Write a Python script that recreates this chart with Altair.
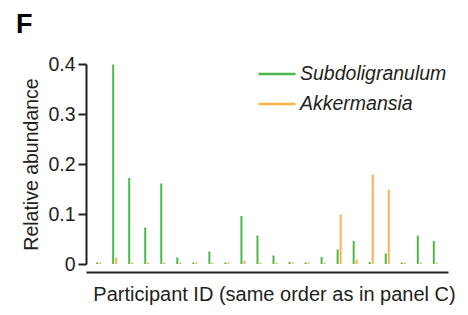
import altair as alt
import pandas as pd

participants = [f"P{i:02d}" for i in range(1, 23)]
subdoligranulum = [0.003, 0.399, 0.172, 0.073, 0.161, 0.013, 0.003, 0.025, 0.003, 0.096, 0.057,
                   0.017, 0.004, 0.003, 0.014, 0.029, 0.046, 0.004, 0.021, 0.003, 0.057, 0.046]
akkermansia = [0.003, 0.013, 0.003, 0.003, 0.003, 0.003, 0.003, 0.003, 0.003, 0.007, 0.003,
               0.003, 0.003, 0.003, 0.003, 0.099, 0.009, 0.179, 0.149, 0.003, 0.003, 0.003]
series = ["Subdoligranulum", "Akkermansia"]
colors = ["#4cb84c", "#fbb24a"]

rows = []
for p, s, a in zip(participants, subdoligranulum, akkermansia):
    rows.append({"participant": p, "series": series[0], "value": s, "zero": 0})
    rows.append({"participant": p, "series": series[1], "value": a, "zero": 0})
df = pd.DataFrame(rows)

FONT = "Liberation Sans"
DARK = "#231f20"
FS = 19.5

chart = alt.Chart(df).mark_rule(strokeWidth=2).encode(
    x=alt.X("participant:N", sort=participants,
            scale=alt.Scale(paddingInner=0, paddingOuter=0.29),
            axis=alt.Axis(title="Participant ID (same order as in panel C)", labels=False,
                          ticks=False, offset=8, domainColor=DARK, domainWidth=2,
                          titleFontSize=20, titleFont=FONT, titleFontWeight="normal",
                          titleColor=DARK, titlePadding=12, titleX=188,
                          titleAlign="center")),
    xOffset=alt.XOffset("series:N", sort=series,
                        scale=alt.Scale(paddingInner=0, paddingOuter=0, range=[5, 11])),
    y=alt.Y("value:Q", scale=alt.Scale(domain=[0, 0.4], nice=False),
            axis=alt.Axis(title="Relative abundance", values=[0, 0.1, 0.2, 0.3, 0.4],
                          labelExpr="datum.value == 0 ? '0' : format(datum.value, '.1f')",
                          grid=False, tickSize=8, tickWidth=2, tickColor=DARK,
                          domainColor=DARK, domainWidth=2, labelFontSize=FS,
                          labelFont=FONT, labelColor=DARK, labelPadding=3,
                          titleFontSize=FS, titleFont=FONT, titleFontWeight="normal",
                          titleColor=DARK, titlePadding=6)),
    y2=alt.Y2("zero:Q"),
    color=alt.Color("series:N", sort=series,
                    scale=alt.Scale(domain=series, range=colors),
                    legend=alt.Legend(title=None, orient="none", legendX=171, legendY=-10,
                                      symbolType="stroke", symbolSize=1369,
                                      symbolStrokeWidth=2.5, labelFontSize=FS,
                                      labelFont=FONT, labelFontStyle="italic",
                                      labelColor=DARK, labelOffset=3, rowPadding=-9)),
).properties(
    width=362, height=200,
    title=alt.TitleParams(text="F", anchor="start", frame="group", fontSize=27,
                          fontWeight="bold", font=FONT, color="#000000", dx=-70,
                          offset=15),
    autosize=alt.AutoSizeParams(type="none"),
    padding={"left": 78, "top": 56, "right": 12, "bottom": 43},
).configure_view(stroke=None)

chart.save("out.html", embed_options={"renderer": "svg", "actions": False})
